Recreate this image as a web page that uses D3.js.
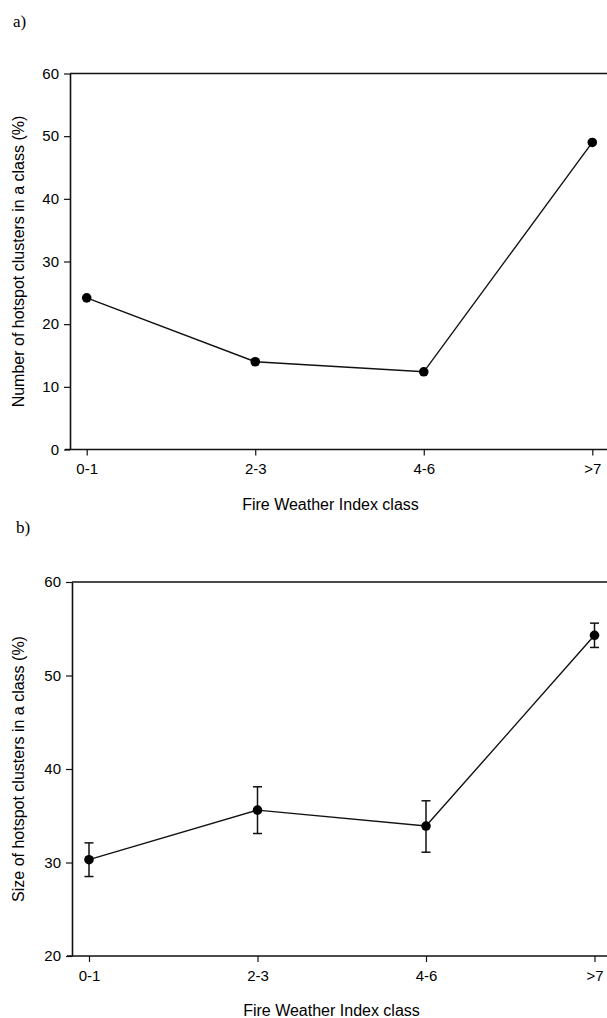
<!DOCTYPE html>
<html>
<head>
<meta charset="utf-8">
<script src="https://cdn.jsdelivr.net/npm/d3@7"></script>
<style>
  body { margin: 0; background: #fff; }
  svg { display: block; }
</style>
</head>
<body>
<div id="chart"></div>
<script>
// data
var classes = ["0-1", "2-3", "4-6", ">7"];
var countPct = [24.2, 14.0, 12.4, 49.0];
var sizeMean = [30.3, 35.6, 33.9, 54.3];
var sizeLow = [28.5, 33.1, 31.1, 53.0];
var sizeHigh = [32.1, 38.1, 36.6, 55.6];
var countTicks = [0, 10, 20, 30, 40, 50, 60];
var sizeTicks = [20, 30, 40, 50, 60];

var W = 607, H = 1018;
var svg = d3.select("#chart").append("svg")
  .attr("width", W)
  .attr("height", H);

var sans = "'Liberation Sans', Arial, sans-serif";

function panel(opt) {
  var g = svg.append("g");
  var x = d3.scalePoint().domain(classes).range([opt.x0, opt.x1]);
  var y = d3.scaleLinear().domain(opt.domain).range([opt.bottom, opt.top]);

  // top frame line + bottom axis line run off the right edge
  g.append("line")
    .attr("x1", opt.left).attr("x2", W)
    .attr("y1", opt.top).attr("y2", opt.top)
    .attr("stroke", "#111").attr("stroke-width", 1.6);
  g.append("line")
    .attr("x1", opt.left - 5).attr("x2", W)
    .attr("y1", opt.bottom).attr("y2", opt.bottom)
    .attr("stroke", "#111").attr("stroke-width", 1.6);

  var yAxis = g.append("g")
    .attr("transform", "translate(" + opt.left + ",0)")
    .call(d3.axisLeft(y).tickValues(opt.ticks).tickSize(6).tickPadding(5).tickSizeOuter(0));
  yAxis.select(".domain").attr("stroke-width", 1.6).attr("stroke", "#111");
  yAxis.selectAll(".tick line").attr("stroke", "#111").attr("stroke-width", 1.2);
  yAxis.selectAll("text").style("font-family", sans).style("font-size", "15px").attr("fill", "#000");

  var xAxis = g.append("g")
    .attr("transform", "translate(0," + opt.bottom + ")")
    .call(d3.axisBottom(x).tickSize(6).tickPadding(8));
  xAxis.select(".domain").remove();
  xAxis.selectAll(".tick line").attr("stroke", "#111").attr("stroke-width", 1.2);
  xAxis.selectAll("text").style("font-family", sans).style("font-size", "15px").attr("fill", "#000");

  var pts = classes.map(function(c, i) { return { c: c, v: opt.values[i], i: i }; });

  if (opt.low) {
    var eb = g.selectAll(".eb").data(pts).enter().append("g")
      .attr("stroke", "#111").attr("stroke-width", 1.5);
    eb.append("line")
      .attr("x1", function(d) { return x(d.c); }).attr("x2", function(d) { return x(d.c); })
      .attr("y1", function(d) { return y(opt.low[d.i]); })
      .attr("y2", function(d) { return y(opt.high[d.i]); });
    eb.append("line")
      .attr("x1", function(d) { return x(d.c) - 4.5; }).attr("x2", function(d) { return x(d.c) + 4.5; })
      .attr("y1", function(d) { return y(opt.low[d.i]); })
      .attr("y2", function(d) { return y(opt.low[d.i]); });
    eb.append("line")
      .attr("x1", function(d) { return x(d.c) - 4.5; }).attr("x2", function(d) { return x(d.c) + 4.5; })
      .attr("y1", function(d) { return y(opt.high[d.i]); })
      .attr("y2", function(d) { return y(opt.high[d.i]); });
  }

  g.append("path")
    .datum(pts)
    .attr("fill", "none")
    .attr("stroke", "#111")
    .attr("stroke-width", 1.4)
    .attr("d", d3.line().x(function(d) { return x(d.c); }).y(function(d) { return y(d.v); }));

  g.selectAll(".pt").data(pts).enter().append("circle")
    .attr("cx", function(d) { return x(d.c); })
    .attr("cy", function(d) { return y(d.v); })
    .attr("r", 4.8)
    .attr("fill", "#000");

  // axis titles
  g.append("text")
    .attr("x", (opt.left + W) / 2 - 8)
    .attr("y", opt.bottom + 60)
    .attr("text-anchor", "middle")
    .style("font-family", sans).style("font-size", "16px")
    .text("Fire Weather Index class");
  g.append("text")
    .attr("transform", "translate(24," + ((opt.top + opt.bottom) / 2) + ") rotate(-90)")
    .attr("text-anchor", "middle")
    .style("font-family", sans).style("font-size", "16px")
    .text(opt.ytitle);

  // panel letter
  g.append("text")
    .attr("x", opt.labelX).attr("y", opt.labelY)
    .style("font-family", "'Liberation Serif', 'Times New Roman', serif")
    .style("font-size", "17px")
    .text(opt.label);
}

panel({
  label: "a)", labelX: 13, labelY: 27,
  left: 70, top: 73.5, bottom: 449.5,
  x0: 86.7, x1: 592.3,
  domain: [0, 60], ticks: countTicks,
  values: countPct,
  ytitle: "Number of hotspot clusters in a class (%)"
});

panel({
  label: "b)", labelX: 16, labelY: 533,
  left: 72, top: 582, bottom: 956,
  x0: 89, x1: 594.5,
  domain: [20, 60], ticks: sizeTicks,
  values: sizeMean, low: sizeLow, high: sizeHigh,
  ytitle: "Size of hotspot clusters in a class (%)"
});
</script>
</body>
</html>
